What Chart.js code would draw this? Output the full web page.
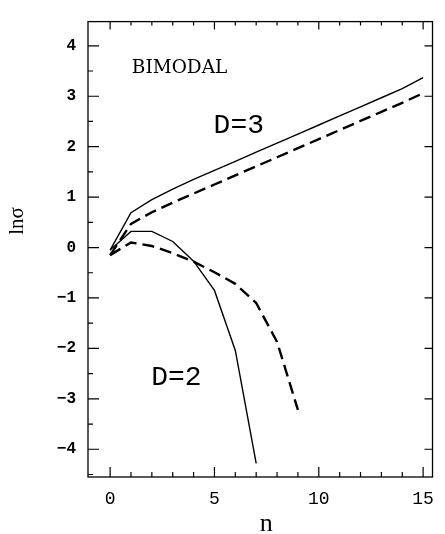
<!DOCTYPE html>
<html>
<head>
<meta charset="utf-8">
<script src="https://cdn.jsdelivr.net/npm/chart.js@4"></script>
<style>
  html, body { margin: 0; padding: 0; background: #fff; }
  #c { display: block; }
</style>
</head>
<body>
<canvas id="c" width="445" height="534"></canvas>
<script>
// Data (ln sigma vs n)
const nD3 = [0, 1, 2, 3, 4, 5, 6, 7, 8, 9, 10, 11, 12, 13, 14, 15];
const d3Solid = [-0.05, 0.69, 0.95, 1.16, 1.35, 1.53, 1.71, 1.89, 2.07, 2.25, 2.43, 2.61, 2.79, 2.97, 3.15, 3.37];
const d3Dashed = [-0.15, 0.47, 0.70, 0.89, 1.07, 1.25, 1.43, 1.61, 1.79, 1.97, 2.15, 2.33, 2.51, 2.69, 2.87, 3.06];

const nD2Solid = [0, 1, 2, 3, 4, 5, 6, 7];
const d2Solid = [-0.05, 0.32, 0.32, 0.12, -0.27, -0.85, -2.04, -4.28];
const nD2Dashed = [0, 1, 2, 3, 4, 5, 6, 7, 8, 9];
const d2Dashed = [-0.15, 0.10, 0.03, -0.11, -0.28, -0.49, -0.72, -1.10, -1.87, -3.22];

const xTickLabels = [0, 5, 10, 15];
const yTickLabels = [-4, -3, -2, -1, 0, 1, 2, 3, 4];

// annotation labels anchored in data coordinates
const notes = [
  { text: 'BIMODAL', x: 1.04, y: 3.46, font: '18.5px "DejaVu Serif"' },
  { text: 'D=3', x: 4.96, y: 2.28, font: '28px "Liberation Mono"' },
  { text: 'D=2', x: 1.97, y: -2.72, font: '28px "Liberation Mono"' },
];

const pts = (xs, ys) => xs.map((x, i) => ({ x: x, y: ys[i] }));

function line(data, dashed) {
  return {
    data: data,
    borderColor: '#000',
    borderWidth: dashed ? 2.4 : 1.4,
    borderDash: dashed ? [12, 6] : [],
    pointRadius: 0,
    tension: 0,
    fill: false,
  };
}

// inward ticks, frame, annotations and axis titles
const framePlugin = {
  id: 'frame',
  afterDraw(chart) {
    const { ctx, chartArea: a, scales: { x, y } } = chart;
    ctx.save();
    ctx.strokeStyle = '#000';
    ctx.lineWidth = 1.3;
    ctx.strokeRect(a.left, a.top, a.right - a.left, a.bottom - a.top);
    ctx.lineWidth = 1.2;
    ctx.beginPath();
    for (let i = 0; i <= 15; i++) {
      const px = x.getPixelForValue(i);
      const len = i % 5 === 0 ? 10 : 5;
      ctx.moveTo(px, a.bottom);
      ctx.lineTo(px, a.bottom - len);
      ctx.moveTo(px, a.top);
      ctx.lineTo(px, a.top + (i % 5 === 0 ? 8 : 4));
    }
    for (let v = -4.5; v <= 4.5; v += 0.5) {
      const py = y.getPixelForValue(v);
      if (py < a.top || py > a.bottom) continue;
      const major = Number.isInteger(v);
      ctx.moveTo(a.left, py);
      ctx.lineTo(a.left + (major ? 11 : 5), py);
      if (major) {
        ctx.moveTo(a.right, py);
        ctx.lineTo(a.right - 8, py);
      }
    }
    ctx.stroke();

    ctx.fillStyle = '#000';
    ctx.textAlign = 'left';
    ctx.textBaseline = 'alphabetic';
    notes.forEach(n => {
      ctx.font = n.font;
      ctx.fillText(n.text, x.getPixelForValue(n.x), y.getPixelForValue(n.y));
    });

    // axis titles
    ctx.font = '26px "Liberation Serif"';
    ctx.textAlign = 'center';
    ctx.fillText('n', (a.left + a.right) / 2 + 6, 531);
    ctx.save();
    ctx.translate(23, 221);
    ctx.rotate(-Math.PI / 2);
    ctx.font = '21px "Liberation Serif"';
    ctx.fillText('ln\u03c3', 0, 0);
    ctx.restore();
    ctx.restore();
  }
};

new Chart(document.getElementById('c').getContext('2d'), {
  type: 'line',
  data: {
    datasets: [
      line(pts(nD3, d3Solid), false),
      line(pts(nD3, d3Dashed), true),
      line(pts(nD2Solid, d2Solid), false),
      line(pts(nD2Dashed, d2Dashed), true),
    ],
  },
  options: {
    responsive: false,
    animation: false,
    devicePixelRatio: 1,
    layout: { padding: { top: 9, right: 3, left: 0, bottom: 0 } },
    plugins: { legend: { display: false }, tooltip: { enabled: false } },
    scales: {
      x: {
        type: 'linear',
        min: -1.06,
        max: 15.45,
        afterFit: s => { s.height = 57; },
        afterBuildTicks: s => { s.ticks = xTickLabels.map(v => ({ value: v })); },
        grid: { display: false, drawTicks: false },
        border: { display: false },
        ticks: {
          padding: 11,
          color: '#000',
          font: { family: 'Liberation Mono', size: 18 },
          maxRotation: 0,
        },
      },
      y: {
        type: 'linear',
        min: -4.55,
        max: 4.48,
        afterFit: s => { s.width = 88; },
        afterBuildTicks: s => { s.ticks = yTickLabels.map(v => ({ value: v })); },
        grid: { display: false, drawTicks: false },
        border: { display: false },
        ticks: {
          padding: 12,
          color: '#000',
          font: { family: 'Liberation Mono', size: 16, weight: 'bold' },
          callback: v => (v < 0 ? '\u2212' + Math.abs(v) : String(v)),
        },
      },
    },
  },
  plugins: [framePlugin],
});
</script>
</body>
</html>
